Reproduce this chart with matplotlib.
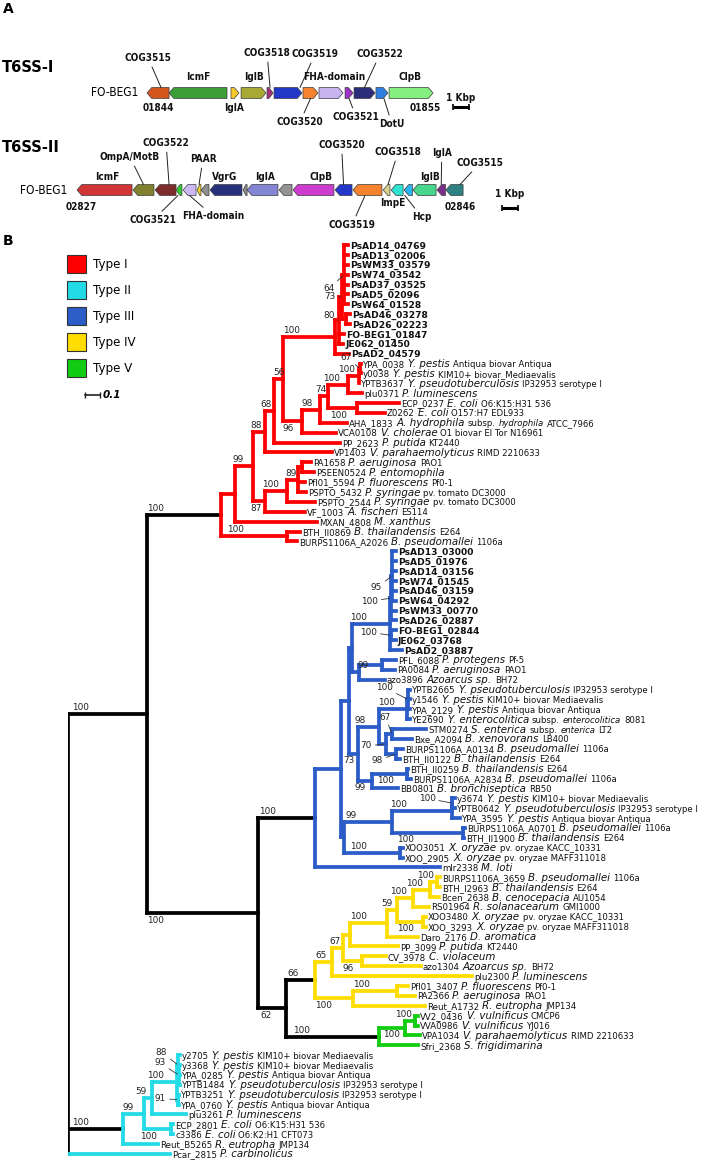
import matplotlib

matplotlib.use('Agg')

import matplotlib.pyplot as plt
from matplotlib.patches import Polygon, Patch
from matplotlib.collections import LineCollection

W, H = 708, 1161
PX_KBP = 16.0      # panel A scale, pixels per kbp
PX_UNIT = 150.0    # tree scale, pixels per substitution unit

# ---------------- panel A : gene clusters (kbp from first gene) ----------------
CLUSTER_NAMES = ['T6SS-I', 'T6SS-II']
STRAIN_NAME = 'FO-BEG1'

NAMES_1 = ['COG3515', 'IcmF', 'IglA', 'IglB', 'COG3518', 'COG3519', 'COG3520',
           'FHA-domain', 'COG3521', 'COG3522', 'DotU', 'ClpB']
START_1 = [0.0, 1.38, 5.25, 5.88, 7.50, 7.94, 9.75, 10.75, 12.38, 12.94, 14.31, 15.13]
END_1 = [1.38, 5.00, 5.75, 7.44, 7.88, 9.69, 10.69, 12.25, 12.88, 14.25, 15.06, 17.88]
STRAND_1 = [-1, -1, 1, 1, 1, 1, 1, 1, 1, 1, 1, 1]
COLORS_1 = ['#d4561c', '#3a9d36', '#f4c928', '#a8a834', '#a3317a', '#2337c9', '#f5822d',
            '#c8b4f0', '#9a33c8', '#2b2d7b', '#2f80e2', '#86ef7f']

NAMES_2 = ['IcmF', 'OmpA/MotB', 'COG3522', 'COG3521', 'FHA-domain', 'PAAR', 'hyp', 'VgrG',
           'hyp', 'IglA', 'hyp', 'ClpB', 'COG3520', 'COG3519', 'COG3518', 'ImpE', 'Hcp',
           'IglB', 'IglA', 'COG3515']
START_2 = [0.0, 3.50, 4.88, 6.19, 6.63, 7.50, 7.75, 8.31, 10.38, 10.63, 12.63, 13.50,
           16.13, 17.25, 19.13, 19.63, 20.44, 21.00, 22.50, 23.06]
END_2 = [3.44, 4.81, 6.19, 6.56, 7.44, 7.75, 8.25, 10.31, 10.63, 12.56, 13.44, 16.06,
         17.19, 19.06, 19.56, 20.38, 20.97, 22.44, 23.03, 24.13]
STRAND_2 = [-1] * 20
COLORS_2 = ['#d23535', '#80802f', '#7e2b2b', '#36c936', '#ccb7f2', '#f2d22e', '#8e8e8e',
            '#26307d', '#8e8e8e', '#8585d6', '#939393', '#cd3dcd', '#2337c9', '#f5822d',
            '#d6d48c', '#2ee3d2', '#2ab4f2', '#47d68c', '#7b2f8b', '#2f8181']

# label layout: (gene index, text, text dx px, text dy px, leader tip dx px)
LABELS_1 = [(0, 'COG3515', -10, -35, 3), (1, 'IcmF', 0, -16, None), (3, 'IglB', 0, -16, None),
            (4, 'COG3518', -3, -40, 0), (5, 'COG3519', 27, -39, 12),
            (7, 'FHA-domain', 3, -16, None), (9, 'COG3522', 15.5, -39, 0),
            (11, 'ClpB', -1, -16, None), (0, '01844', 0, 15, None), (2, 'IglA', -1, 15, None),
            (6, 'COG3520', -10.5, 29, 0), (8, 'COG3521', 7, 24, 0), (10, 'DotU', 10, 31, 2),
            (11, '01855', 14, 15, None)]
LABELS_2 = [(0, 'IcmF', 2.5, -13, None), (1, 'OmpA/MotB', -13.5, -33, 0),
            (2, 'COG3522', 0.5, -47, 3.5), (5, 'PAAR', 4, -31, 0), (7, 'VgrG', -1, -13, None),
            (9, 'IglA', 2.5, -13, None), (11, 'ClpB', 8, -13, None), (12, 'COG3520', -2, -45, 0),
            (14, 'COG3518', 11.5, -38, 1.5), (17, 'IglB', 5, -13, None), (18, 'IglA', 0.5, -37, 0),
            (19, 'COG3515', 25.5, -27, 5.5), (0, '02827', -23.5, 17, None),
            (3, 'COG3521', -26, 30, -1), (4, 'FHA-domain', 23.5, 26, 0),
            (13, 'COG3519', -15.5, 35, -2.5), (15, 'ImpE', -4, 13, None),
            (16, 'Hcp', 13.5, 27, -3.5), (19, '02846', 5.5, 17, None)]

# ---------------- panel B : tree (newick, branch lengths in subst./site) ----------------
S64 = ("(PsAD14_04769:0.027,PsAD13_02006:0.027,PsWM33_03579:0.027,PsW74_03542:0.027,"
       "PsAD37_03525:0.027,PsAD5_02096:0.027,PsW64_01528:0.027)s64:0.013")
G46 = "(PsAD46_03278:0.027,PsAD26_02223:0.027)g46:0.027"
PS1 = f"((({S64},{G46})s73:0.02,FO-BEG1_01847:0.033,JE062_01450:0.027)s80:0.027,PsAD2_04579:0.093)ps1:0.347"
YERS1 = "(((YPA_0038:0.007,y0038:0.007)s67:0.007,YPTB3637:0.003)y2:0.073,plu0371:0.093)y100:0.133"
ECOLI1 = "(ECP_0237:0.28,Z0262:0.187)ec100:0.193"
S96 = f"((({YERS1},{ECOLI1})s74:0.053,AHA_1833:0.18)s98:0.12,VCA0108:0.227)s96:0.127"
S87 = ("((((PA1658:0.06,PSEEN0524:0.08)px:0.027,Pfl01_5594:0.047,PSPTO_5432:0.053)s89:0.073,"
       "PSPTO_2544:0.187)p100:0.147,VF_1003:0.267)s87:0.08")
TYPE_I = (f"(((((({PS1},{S96})s56:0.06,PP_2623:0.44)s68:0.06,VP1403:0.447)s88:0.08,{S87})s99:0.12,"
          "MXAN_4808:0.547)n235:0.093,(BTH_II0869:0.087,BURPS1106A_A2026:0.067)bth100:0.44)I0:0.493")

PS3 = ("(((PsAD13_03000:0.027,PsAD5_01976:0.027,PsAD14_03156:0.027,PsW74_01545:0.027,"
       "PsAD46_03159:0.027,PsW64_04292:0.027)q95:0.007,PsWM33_00770:0.033,PsAD26_02887:0.033)q1:0.007,"
       "(FO-BEG1_02844:0.033,JE062_03768:0.033)q2:0.007,PsAD2_03887:0.08)ps3:0.253")
P99 = "((PFL_6088:0.093,PA0084:0.087)pp:0.153,azo3896:0.173)P99:0.047"
N98 = ("(((YPTB2665:0.013,y1546:0.013,YPA_2129:0.013)yc:0.007,YE2690:0.02)Y3:0.187,"
       "((STM0274:0.227,Bxe_A2094:0.133)N3:0.04,(BURPS1106A_A0134:0.047,BTH_II0122:0.027)N4:0.067)N2:0.047)N:0.14")
O99 = "((BTH_II0259:0.007,BURPS1106A_A2834:0.027)bp:0.233,BB0801:0.173)O:0.093"
IIIB = ("((((y3674:0.017,YPTB0642:0.017)yt2:0.003,YPA_3595:0.053)yt:0.4,"
        "(BURPS1106A_A0701:0.013,BTH_II1900:0.007)bb:0.473)YB:0.32,(XOO3051:0.02,XOO_2905:0.02)xo:0.373)IIIb:0.02")
TYPE_III = f"(((({PS3},{P99})L:0.02,({N98},{O99})M:0.06)K:0.053,{IIIB})III1:0.173,mlr2338:0.833)III0:0.38"

N387 = ("(((((BURPS1106A_3659:0.02,BTH_I2963:0.02)pr:0.047,Bcen_2638:0.06)n430:0.113,RS01964:0.107)n413:0.107,"
        "(XOO3480:0.02,XOO_3293:0.02)xp:0.173)n397:0.067,Daro_2176:0.207)n387:0.247")
TYPE_IV = (f"(((({N387},PP_3099:0.32)P100:0.047,(CV_3978:0.16,azo1304:0.393)cv:0.127)s67b:0.073,"
           "plu2300:0.933)IV1:0.113,((Pfl01_3407:0.073,PA2366:0.12)pf:0.293,Reut_A1732:0.48)IV2:0.253)IV0:0.193")
TYPE_V = "(((VV2_0436:0.02,VVA0986:0.02)V3:0.067,VPA1034:0.1)V2:0.173,Sfri_2368:0.26)V0:0.62"
TYPE_II = ("(((((y2705:0.013,(y3368:0.01,YPA_0285:0.01,YPTB1484:0.01)t93:0.003)t88:0.007,"
           "(YPTB3251:0.007,YPA_0760:0.007)t91:0.007)t100:0.167,plu3261:0.227)t59:0.053,"
           "(ECP_2801:0.013,c3386:0.013)ec2:0.18)t99:0.14,Reut_B5265:0.233)II0:0.367")
TREE = f"(({TYPE_I},({TYPE_III},({TYPE_IV},{TYPE_V})D:0.187)C:0.74)A:0.527,{TYPE_II},Pcar_2815:0.68)root;"

SUPPORT = {'A': 100, 'I0': 100, 's99': 99, 's88': 88, 's68': 68, 's56': 56, 'ps1': 100, 's80': 80,
           's73': 73, 's64': 64, 's96': 96, 's98': 98, 's74': 74, 'y100': 100, 'y2': 100, 's67': 67,
           'ec100': 100, 's87': 87, 'p100': 100, 's89': 89, 'bth100': 100,
           'C': 100, 'III0': 100, 'ps3': 100, 'q1': 100, 'q95': 95, 'q2': 100, 'P99': 99, 'M': 73,
           'N': 98, 'Y3': 100, 'yc': 100, 'N2': 70, 'N3': 67, 'N4': 98, 'O': 99, 'bp': 100,
           'YB': 99, 'yt': 100, 'yt2': 100, 'bb': 100, 'xo': 100,
           'D': 62, 'IV0': 66, 'IV1': 65, 's67b': 67, 'n387': 100, 'n397': 59, 'n413': 100,
           'n430': 100, 'pr': 100, 'xp': 100, 'cv': 96, 'IV2': 100, 'pf': 100,
           'V0': 100, 'V2': 100, 'V3': 100,
           'II0': 100, 't99': 99, 't59': 59, 't100': 100, 't88': 88, 't93': 93, 't91': 91, 'ec2': 100}

TAXON = {
    'YPA_0038': ('Y. pestis', 'Antiqua biovar Antiqua'),
    'y0038': ('Y. pestis', 'KIM10+ biovar_Mediaevalis'),
    'YPTB3637': ('Y. pseudotuberculosis', 'IP32953 serotype I'),
    'plu0371': ('P. luminescens', ''),
    'ECP_0237': ('E. coli', 'O6:K15:H31 536'),
    'Z0262': ('E. coli', 'O157:H7 EDL933'),
    'AHA_1833': ('A. hydrophila', 'subsp. *hydrophila* ATCC_7966'),
    'VCA0108': ('V. cholerae', 'O1 biovar El Tor N16961'),
    'PP_2623': ('P. putida', 'KT2440'),
    'VP1403': ('V. parahaemolyticus', 'RIMD 2210633'),
    'PA1658': ('P. aeruginosa', 'PAO1'),
    'PSEEN0524': ('P. entomophila', ''),
    'Pfl01_5594': ('P. fluorescens', 'Pf0-1'),
    'PSPTO_5432': ('P. syringae', 'pv. tomato DC3000'),
    'PSPTO_2544': ('P. syringae', 'pv. tomato DC3000'),
    'VF_1003': ('A. fischeri', 'ES114'),
    'MXAN_4808': ('M. xanthus', ''),
    'BTH_II0869': ('B. thailandensis', 'E264'),
    'BURPS1106A_A2026': ('B. pseudomallei', '1106a'),
    'PFL_6088': ('P. protegens', 'Pf-5'),
    'PA0084': ('P. aeruginosa', 'PAO1'),
    'azo3896': ('Azoarcus sp.', 'BH72'),
    'YPTB2665': ('Y. pseudotuberculosis', 'IP32953 serotype I'),
    'y1546': ('Y. pestis', 'KIM10+ biovar Mediaevalis'),
    'YPA_2129': ('Y. pestis', 'Antiqua biovar Antiqua'),
    'YE2690': ('Y. enterocolitica', 'subsp. *enterocolitica* 8081'),
    'STM0274': ('S. enterica', 'subsp. *enterica* LT2'),
    'Bxe_A2094': ('B. xenovorans', 'LB400'),
    'BURPS1106A_A0134': ('B. pseudomallei', '1106a'),
    'BTH_II0122': ('B. thailandensis', 'E264'),
    'BTH_II0259': ('B. thailandensis', 'E264'),
    'BURPS1106A_A2834': ('B. pseudomallei', '1106a'),
    'BB0801': ('B. bronchiseptica', 'RB50'),
    'y3674': ('Y. pestis', 'KIM10+ biovar Mediaevalis'),
    'YPTB0642': ('Y. pseudotuberculosis', 'IP32953 serotype I'),
    'YPA_3595': ('Y. pestis', 'Antiqua biovar Antiqua'),
    'BURPS1106A_A0701': ('B. pseudomallei', '1106a'),
    'BTH_II1900': ('B. thailandensis', 'E264'),
    'XOO3051': ('X. oryzae', 'pv. oryzae KACC_10331'),
    'XOO_2905': ('X. oryzae', 'pv. oryzae MAFF311018'),
    'mlr2338': ('M. loti', ''),
    'BURPS1106A_3659': ('B. pseudomallei', '1106a'),
    'BTH_I2963': ('B. thailandensis', 'E264'),
    'Bcen_2638': ('B. cenocepacia', 'AU1054'),
    'RS01964': ('R. solanacearum', 'GMI1000'),
    'XOO3480': ('X. oryzae', 'pv. oryzae KACC_10331'),
    'XOO_3293': ('X. oryzae', 'pv. oryzae MAFF311018'),
    'Daro_2176': ('D. aromatica', ''),
    'PP_3099': ('P. putida', 'KT2440'),
    'CV_3978': ('C. violaceum', ''),
    'azo1304': ('Azoarcus sp.', 'BH72'),
    'plu2300': ('P. luminescens', ''),
    'Pfl01_3407': ('P. fluorescens', 'Pf0-1'),
    'PA2366': ('P. aeruginosa', 'PAO1'),
    'Reut_A1732': ('R. eutropha', 'JMP134'),
    'VV2_0436': ('V. vulnificus', 'CMCP6'),
    'VVA0986': ('V. vulnificus', 'YJ016'),
    'VPA1034': ('V. parahaemolyticus', 'RIMD 2210633'),
    'Sfri_2368': ('S. frigidimarina', ''),
    'y2705': ('Y. pestis', 'KIM10+ biovar Mediaevalis'),
    'y3368': ('Y. pestis', 'KIM10+ biovar Mediaevalis'),
    'YPA_0285': ('Y. pestis', 'Antiqua biovar Antiqua'),
    'YPTB1484': ('Y. pseudotuberculosis', 'IP32953 serotype I'),
    'YPTB3251': ('Y. pseudotuberculosis', 'IP32953 serotype I'),
    'YPA_0760': ('Y. pestis', 'Antiqua biovar Antiqua'),
    'plu3261': ('P. luminescens', ''),
    'ECP_2801': ('E. coli', 'O6:K15:H31 536'),
    'c3386': ('E. coli', 'O6:K2:H1 CFT073'),
    'Reut_B5265': ('R. eutropha', 'JMP134'),
    'Pcar_2815': ('P. carbinolicus', ''),
}

TYPE_LABELS = ['Type I', 'Type II', 'Type III', 'Type IV', 'Type V']
TYPE_COLORS = ['#ff0000', '#22dbe6', '#2b5cc8', '#ffdd00', '#12cc12']
CLADE_COLOR = {'I0': TYPE_COLORS[0], 'II0': TYPE_COLORS[1], 'Pcar_2815': TYPE_COLORS[1],
               'III0': TYPE_COLORS[2], 'IV0': TYPE_COLORS[3], 'V0': TYPE_COLORS[4]}

# support label placement (default: above the branch, left edge at parent node)
BELOW = {'s96', 'ec100', 's87', 'C', 'D', 'O', 'bp', 'bb', 'M', 'cv', 'xp', 'IV2', 'V2', 'ec2'}
LABEL_X = {'s56': -1, 's68': -5, 's88': -3, 's74': -5, 's99': -2, 'y100': -5, 'y2': -10,
           'ec100': 2, 's87': -3, 'p100': -3, 's89': -2, 'bth100': 6, 'pr': -13, 'n430': -7,
           'n413': -7, 'n397': -6, 's67b': -3, 'IV0': 1, 'V0': 7, 'V2': 4, 'V3': -10, 'D': 2,
           'III0': 1, 'ps3': -2, 'P99': 6, 'N': -3, 'M': -6, 'O': -3, 'bp': 5, 'Y3': -1,
           'YB': 1, 'yt': -2, 'bb': 5, 'xo': 6, 'II0': 4, 't99': -1, 't59': -9, 't100': -5,
           'ec2': -4, 'A': 4}
CALLOUT = {'s64': (-9, 14), 's73': (-7, 0), 's80': (-4, -5), 's67': (-8, -11),
           'q95': (-10, 12), 'q1': (-13, 3), 'q2': (-14, -3), 'yc': (-15, -12),
           'N3': (-1, -17), 'N4': (-13, 7), 'N2': (-14, 2), 'yt2': (-17, -5),
           't93': (-13, -12), 't88': (-11, -13), 't91': (-12, -1)}


def parse_newick(s):
    s = s.strip().rstrip(';')
    pos = 0

    def node():
        nonlocal pos
        children = []
        if s[pos] == '(':
            pos += 1
            while True:
                children.append(node())
                if s[pos] == ',':
                    pos += 1
                    continue
                pos += 1
                break
        start = pos
        while pos < len(s) and s[pos] not in ':,()':
            pos += 1
        name = s[start:pos]
        length = 0.0
        if pos < len(s) and s[pos] == ':':
            pos += 1
            start = pos
            while pos < len(s) and s[pos] not in ',()':
                pos += 1
            length = float(s[start:pos])
        return {'name': name, 'len': length, 'children': children}

    return node()


fig = plt.figure(figsize=(W / 100, H / 100), dpi=100)
renderer = fig.canvas.get_renderer()


def ftext(x, y, s, **kw):
    fig.text(x / W, 1 - y / H, s, **kw)


# ---------------- panel A ----------------
ax_a = fig.add_axes([0, 1 - 240 / H, 1, 240 / H])
ax_a.set_xlim(0, W / PX_KBP)
ax_a.set_ylim(240, 0)
ax_a.axis('off')

GH = 5.5  # half gene height, px
lab_kw = dict(fontsize=7.2, fontweight='bold', fontstretch='condensed', ha='center', va='center',
              color='#111111')


def draw_cluster(x0, row, starts, ends, strands, colors, labels):
    for s, e, d, c in zip(starts, ends, strands, colors):
        s, e = x0 + s, x0 + e
        head = min(0.3, 0.7 * (e - s))
        if d > 0:
            pts = [(s, row - GH), (e - head, row - GH), (e, row), (e - head, row + GH), (s, row + GH)]
        else:
            pts = [(e, row - GH), (s + head, row - GH), (s, row), (s + head, row + GH), (e, row + GH)]
        ax_a.add_patch(Polygon(pts, closed=True, facecolor=c, edgecolor='#3a3a3a', linewidth=0.5))
    for gi, txt, tdx, tdy, tip in labels:
        cx = x0 + (starts[gi] + ends[gi]) / 2
        if tip is None:
            ax_a.annotate(txt, xy=(cx, row), xytext=(tdx * 0.72, -tdy * 0.72),
                          textcoords='offset points', **lab_kw)
        else:
            edge = -GH if tdy < 0 else GH
            ax_a.annotate(txt, xy=(cx + tip / PX_KBP, row + edge),
                          xytext=((tdx - tip) * 0.72, -(tdy - edge) * 0.72),
                          textcoords='offset points',
                          arrowprops=dict(arrowstyle='-', color='#222222', lw=0.7,
                                          shrinkA=1, shrinkB=0), **lab_kw)


draw_cluster(147 / PX_KBP, 93, START_1, END_1, STRAND_1, COLORS_1, LABELS_1)
draw_cluster(77 / PX_KBP, 190, START_2, END_2, STRAND_2, COLORS_2, LABELS_2)

for bx, by, ty in [(453, 107, 98), (502, 208, 194)]:
    x = bx / PX_KBP
    ax_a.plot([x, x + 1], [by, by], color='black', lw=2.2, solid_capstyle='butt')
    ax_a.plot([x, x + 1], [by, by], ls='none', marker='|', ms=5, mew=1.2, color='black')
    ax_a.text(x + 0.5, ty, '1 Kbp', **lab_kw)

ftext(3, 9, 'A', fontsize=10, fontweight='bold', va='center')
ftext(2, 67, CLUSTER_NAMES[0], fontsize=11.8, fontweight='bold', fontstretch='condensed', va='center')
ftext(2, 147, CLUSTER_NAMES[1], fontsize=11.8, fontweight='bold', fontstretch='condensed', va='center')
ftext(91, 93, STRAIN_NAME, fontsize=8.6, fontstretch='condensed', va='center')
ftext(20, 190, STRAIN_NAME, fontsize=8.6, fontstretch='condensed', va='center')
ftext(3, 241, 'B', fontsize=10, fontweight='bold', va='center')

# ---------------- panel B ----------------
Y0, DY = 245.0, 9.88
ax = fig.add_axes([68 / W, 0, 1 - 68 / W, (H - 240) / H])
ax.set_xlim(0, (W - 68) / PX_UNIT)
ax.set_ylim((H - Y0) / DY, (240 - Y0) / DY)
ax.axis('off')

root = parse_newick(TREE)
leaves, internals = [], []


def layout(n, x0, color):
    n['px'] = x0
    n['x'] = x0 + n['len']
    n['color'] = CLADE_COLOR.get(n['name'], color)
    if not n['children']:
        n['y'] = len(leaves)
        leaves.append(n)
    else:
        for c in n['children']:
            layout(c, n['x'], n['color'])
        n['y'] = (n['children'][0]['y'] + n['children'][-1]['y']) / 2
        internals.append(n)


layout(root, 0.0, 'black')

segs, cols = [], []
for n in internals:
    segs.append([(n['x'], n['children'][0]['y']), (n['x'], n['children'][-1]['y'])])
    cols.append(n['color'])
    for c in n['children']:
        segs.append([(n['x'], c['y']), (c['x'], c['y'])])
        cols.append(c['color'] if not c['children'] else n['color'])
order = sorted(range(len(segs)), key=lambda i: cols[i] != 'black')
ax.add_collection(LineCollection([segs[i] for i in order], colors=[cols[i] for i in order],
                                 linewidths=2.7, capstyle='projecting'))

# support values
sup_kw = dict(fontsize=6.4, color='#222222', textcoords='offset points')
for n in internals:
    if n['name'] not in SUPPORT:
        continue
    s = str(SUPPORT[n['name']])
    if n['name'] in CALLOUT:
        dx, dy = CALLOUT[n['name']]
        ax.annotate(s, xy=(n['x'], n['y']), xytext=(dx * 0.72, -dy * 0.72), ha='right', va='center',
                    arrowprops=dict(arrowstyle='-', color='#333333', lw=0.6, shrinkA=0.5, shrinkB=1),
                    **sup_kw)
        continue
    lx = LABEL_X.get(n['name'], 0) * 0.72
    if n['name'] in BELOW:
        ax.annotate(s, xy=(n['px'], n['y']), xytext=(lx, -1.8), ha='left', va='top', **sup_kw)
    else:
        ax.annotate(s, xy=(n['px'], n['y']), xytext=(lx, 2.9), ha='left', va='baseline', **sup_kw)

# leaf labels, written piece by piece
GAP = 3.0  # px
for lf in leaves:
    gid = lf['name']
    if gid in TAXON:
        species, strain = TAXON[gid]
        parts = [(gid, dict(fontsize=6.2)), (species, dict(fontsize=7.4, style='italic'))]
        for k, chunk in enumerate(strain.split('*')):
            if chunk.strip():
                parts.append((chunk.strip(), dict(fontsize=6.1, style='italic' if k % 2 else 'normal')))
    else:
        parts = [(gid, dict(fontsize=6.6, fontweight='bold'))]
    off = 2.0
    for txt, kw in parts:
        t = ax.annotate(txt, xy=(lf['x'], lf['y']), xytext=(off * 0.72, -3.5 * 0.72),
                        textcoords='offset points', ha='left', va='baseline', color='#111111', **kw)
        off += t.get_window_extent(renderer).width + GAP

# scale bar
sx, sy = (85 - 68) / PX_UNIT, (395 - Y0) / DY
ax.plot([sx, sx + 0.1], [sy, sy], color='#222222', lw=1.2)
ax.plot([sx, sx + 0.1], [sy, sy], ls='none', marker='|', ms=5, mew=1.0, color='#222222')
ax.annotate('0.1', xy=(sx + 0.1, sy), xytext=(2, 0), textcoords='offset points', ha='left',
            va='center', fontsize=7.5, fontweight='bold', style='italic')

# legend
handles = [Patch(facecolor=c, edgecolor='#333333', linewidth=0.8) for c in TYPE_COLORS]
fig.legend(handles, TYPE_LABELS, loc='upper left', bbox_to_anchor=(67 / W, 1 - 255 / H),
           frameon=False, fontsize=8.6, handlelength=1.6, handleheight=1.95, labelspacing=0.66,
           handletextpad=0.55, borderpad=0, borderaxespad=0)

fig.savefig('out.png', dpi=100)
